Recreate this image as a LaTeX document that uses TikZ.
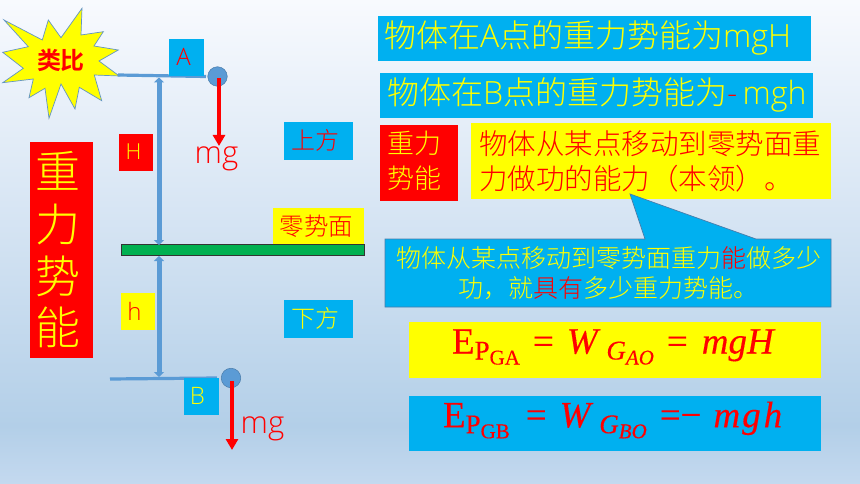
\documentclass[tikz,border=0pt]{standalone}
\usepackage{fontspec}
\setmainfont{Noto Sans CJK SC Light}
\newfontfamily\lat{Open Sans Light}
\newfontfamily\mathf[FakeBold=0.3]{Liberation Serif}
\usetikzlibrary{arrows.meta,positioning,calc}
\definecolor{cy}{HTML}{00B0F0}
\definecolor{blu}{HTML}{5B9BD5}
\definecolor{rd}{HTML}{FF0000}
\definecolor{yl}{HTML}{FFFF00}
\definecolor{grn}{HTML}{00B050}
\definecolor{bga}{HTML}{C4D9EF}
\definecolor{bgb}{HTML}{B3CFE8}
\definecolor{bgc}{HTML}{D2E2F2}
\definecolor{bgd}{HTML}{F8FAFE}
\pgfdeclareverticalshading{bgshade}{100bp}{
color(0bp)=(bga);color(25bp)=(bga);color(31bp)=(bgb);color(50bp)=(bgc);color(75bp)=(bgd);color(100bp)=(bgd)}
\newcommand{\fs}[1]{\fontsize{#1pt}{#1pt}\selectfont}
\newcommand{\rt}[1]{\textcolor{rd}{#1}}
\newcommand{\subA}[1]{\raisebox{-6pt}{\fs{27}#1}}
\newcommand{\subB}[1]{\raisebox{-5pt}{\fs{21}#1}}
\tikzset{
 x=1pt,y=-1pt,
 box/.style={inner sep=0pt,outer sep=0pt,align=center,anchor=center},
 cyb/.style={box,fill=cy},
 rdb/.style={box,fill=rd},
 ylb/.style={box,fill=yl},
 txt/.style={inner sep=0pt,outer sep=0pt,anchor=center},
 hline/.style={draw=blu,line width=3.2pt},
 dbl/.style={draw=blu,line width=5pt,{Triangle[width=10pt,length=5pt]}-{Triangle[width=10pt,length=5pt]}},
 force/.style={draw=rd,line width=3.8pt,-{Triangle[width=12pt,length=11pt]}},
 ball/.style={circle,fill=blu,draw=blu!80!black,line width=.5pt,minimum size=19.5pt,inner sep=0pt},
}
\begin{document}
\begin{tikzpicture}
\useasboundingbox (0,0) rectangle (860,484);
\node[inner sep=0pt,outer sep=0pt,minimum width=860pt,minimum height=484pt,shading=bgshade,anchor=north west] (bg) at (0,0) {};
% star
\fill[yl,draw=blu!80!gray,line width=.7pt] (82,8.3)--(81,35)--(103.3,31.7)--(94,46)--(118.3,50)--(99,61)--(119.3,76)--(94.3,75)--(101.7,100.7)--(79.3,87.3)--(75,109)--(61,84)--(49,118.3)--(45,88.3)--(29,97.7)--(33.3,79)--(2.7,82.7)--(23.3,68.3)--(2.7,52.3)--(28.3,46.7)--(4,20)--(42.3,40)--(48.3,20)--(61,37.7)--cycle;
\node[txt,text=rd,font=\fs{24}\bfseries] (lb) at (61,60) {类比};
% left red
\node[rdb,minimum width=63pt,minimum height=216pt] (zl) at (61,250) {};
\node[txt,text=yl,font=\fs{45}] (z1) at (57.5,171) {重};
\node[txt,text=yl,font=\fs{45}] (z2) at (57.5,224) {力};
\node[txt,text=yl,font=\fs{45}] (z3) at (57.5,276) {势};
\node[txt,text=yl,font=\fs{45}] (z4) at (57.5,327) {能};
% lines
\coordinate (la1) at (118,75); \coordinate (la2) at (206,76.5);
\draw[hline] (la1)--(la2);
\coordinate (lb1) at (110,379); \coordinate (lb2) at (217,378);
\draw[hline] (lb1)--(lb2);
% labels
\node[cyb,minimum width=35pt,minimum height=37pt] (A) at (186.5,57.5) {};
\node[txt,text=rd,font=\fs{24}\lat] (Al) at (183.5,57) {A};
\node[cyb,minimum width=35pt,minimum height=37pt] (B) at (201.5,396.5) {};
\node[txt,text=yl,font=\fs{24}\lat] (Bl) at (197.5,396) {B};
\node[rdb,minimum width=34pt,minimum height=37pt] (H) at (135.5,152.5) {};
\node[txt,text=yl,font=\fs{22}\lat] (Hl) at (133.5,152) {H};
\node[ylb,minimum width=34pt,minimum height=37pt] (h) at (138,311.5) {};
\node[txt,text=rd,font=\fs{24}\lat] (hl) at (134.5,311) {h};
\node[cyb,minimum width=69pt,minimum height=37.5pt] (down) at (318.5,319) {};
\node[cyb,minimum width=69pt,minimum height=37.5pt] (up) at (318.5,141) {};
\node[txt,text=rd,font=\fs{24}] (upl) at (315.5,140) {上方};
\node[txt,text=yl,font=\fs{24}] (downl) at (315.5,318) {下方};
\node[ylb,minimum width=91pt,minimum height=37pt] (zero) at (318.5,226.5) {};
\node[txt,text=rd,font=\fs{24.5}] (zerol) at (316.5,226) {零势面};
% bar
\node[box,fill=grn,draw=black!80,line width=1pt,minimum width=243pt,minimum height=10.5pt] (bar) at (242.5,250) {};
% double arrows
\coordinate (ua) at (159,77.5); \coordinate (ub) at (159,245);
\coordinate (da) at (159,256); \coordinate (db) at (159,377);
\draw[dbl] (ua)--(ub);
\draw[dbl] (da)--(db);
% balls & forces
\node[ball] (ba) at (217.5,76.5) {};
\node[ball] (bb) at (231,378) {};
\coordinate (fa) at (219,146); \coordinate (fb) at (232,450);
\draw[force] (219,78)--(fa);
\draw[force] (232,381)--(fb);
\node[txt,text=rd,font=\fs{31}\lat] (mga) at (216.5,159) {mg};
\node[txt,text=rd,font=\fs{31}\lat] (mgb) at (262.5,429) {mg};
% right top
\node[cyb,minimum width=433pt,minimum height=45pt] (t1) at (594.5,38.5) {};
\node[cyb,minimum width=433pt,minimum height=45pt] (t2) at (596.5,95.5) {};
\node[txt,anchor=west,text=yl,font=\fs{32}] (t1l) at (384,38) {物体在{\lat A}点的重力势能为{\lat mgH}};
\node[txt,anchor=west,text=yl,font=\fs{32}] (t2l) at (387,95) {物体在{\lat B}点的重力势能为{\lat\rt{-}\,mgh}};
\node[rdb,minimum width=78pt,minimum height=76pt] (zb) at (419,163) {};
\node[txt,text=yl,font=\fs{27}] (zb1) at (414,143.5) {重力};
\node[txt,text=yl,font=\fs{27}] (zb2) at (414,178.5) {势能};
\node[ylb,minimum width=360pt,minimum height=76pt] (def) at (651,161) {};
\node[txt,anchor=west,text=rd,font=\fs{28.5}] (def1) at (479,144) {物体从某点移动到零势面重};
\node[txt,anchor=west,text=rd,font=\fs{28.5}] (def2) at (479,179) {力做功的能力（本领）。};
% callout
\fill[cy,draw=blu!80!black,line width=.7pt] (385,239)--(645,239)--(630,194)--(756,239)--(831,239)--(831,307)--(385,307)--cycle;
\node[txt,text=yl,font=\fs{25}] (c1) at (609,258) {物体从某点移动到零势面重力\rt{能}做多少};
\node[txt,text=yl,font=\fs{25}] (c2) at (608,288) {功，就\rt{具有}多少重力势能。};
% formulas
\node[ylb,minimum width=412pt,minimum height=56pt] (f1) at (615,350) {};
\node[txt,anchor=west,text=rd,font=\fs{37}\mathf] (f1l) at (452,347)
 {E\subA{P\subB{GA}}\hspace{13pt}=\hspace{13pt}\textit{W}\hspace{6pt}\subA{\textit{G}\subB{\textit{AO}}}\hspace{13pt}=\hspace{14pt}\textit{mgH}};
\node[cyb,minimum width=412pt,minimum height=55pt] (f2) at (615,423.5) {};
\node[txt,anchor=west,text=rd,font=\fs{37}\mathf] (f2l) at (443,420)
 {E\subA{P\subB{GB}}\hspace{16pt}=\hspace{13pt}\textit{W}\hspace{6pt}\subA{\textit{G}\subB{\textit{BO}}}\hspace{13pt}=−\hspace{12pt}\textit{m\hspace{2pt}g\hspace{3pt}h}};
\end{tikzpicture}
\end{document}
